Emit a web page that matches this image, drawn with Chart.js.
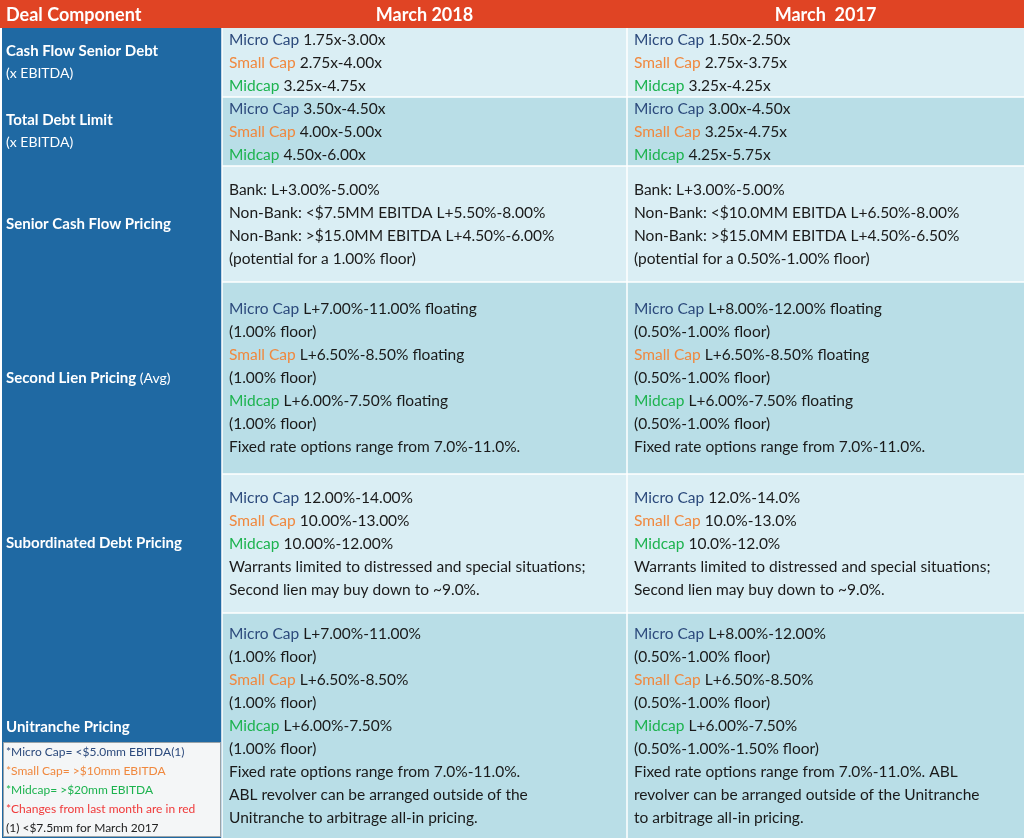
<!DOCTYPE html>
<html><head><meta charset="utf-8">
<script src="https://cdn.jsdelivr.net/npm/chart.js@4"></script>
<style>html,body{margin:0;padding:0;background:#fff}canvas{display:block}</style>
</head><body>
<canvas id="c" width="1024" height="838"></canvas>
<script>
// Table layout in chart units (x: 0..1024, y: 0..838)
const colEdges = [0, 222, 627, 1024];
const headers = ["Deal Component", "March 2018", "March  2017"];
const rowEdges = [0, 28, 97, 166, 282, 474, 613, 838];
const rowLabels = [
  [["Cash Flow Senior Debt","b"]],
  [["Total Debt Limit","b"]],
  [["Senior Cash Flow Pricing","b"]],
  [["Second Lien Pricing","b"],[" (Avg)","r"]],
  [["Subordinated Debt Pricing","b"]],
  [["Unitranche Pricing","b"]]
];
const rowSubLabels = ["(x EBITDA)", "(x EBITDA)", "", "", "", ""];
const march2018 = [
  [[["Micro Cap ","m"],["1.75x-3.00x"]],[["Small Cap ","s"],["2.75x-4.00x"]],[["Midcap ","g"],["3.25x-4.75x"]]],
  [[["Micro Cap ","m"],["3.50x-4.50x"]],[["Small Cap ","s"],["4.00x-5.00x"]],[["Midcap ","g"],["4.50x-6.00x"]]],
  [[["Bank: L+3.00%-5.00%"]],[["Non-Bank: <$7.5MM EBITDA L+5.50%-8.00%"]],[["Non-Bank: >$15.0MM EBITDA L+4.50%-6.00%"]],[["(potential for a 1.00% floor)"]]],
  [[["Micro Cap ","m"],["L+7.00%-11.00% floating"]],[["(1.00% floor)"]],[["Small Cap ","s"],["L+6.50%-8.50% floating"]],[["(1.00% floor)"]],[["Midcap ","g"],["L+6.00%-7.50% floating"]],[["(1.00% floor)"]],[["Fixed rate options range from 7.0%-11.0%."]]],
  [[["Micro Cap ","m"],["12.00%-14.00%"]],[["Small Cap ","s"],["10.00%-13.00%"]],[["Midcap ","g"],["10.00%-12.00%"]],[["Warrants limited to distressed and special situations;"]],[["Second lien may buy down to ~9.0%."]]],
  [[["Micro Cap ","m"],["L+7.00%-11.00%"]],[["(1.00% floor)"]],[["Small Cap ","s"],["L+6.50%-8.50%"]],[["(1.00% floor)"]],[["Midcap ","g"],["L+6.00%-7.50%"]],[["(1.00% floor)"]],[["Fixed rate options range from 7.0%-11.0%."]],[["ABL revolver can be arranged outside of the"]],[["Unitranche to arbitrage all-in pricing."]]]
];
const march2017 = [
  [[["Micro Cap ","m"],["1.50x-2.50x"]],[["Small Cap ","s"],["2.75x-3.75x"]],[["Midcap ","g"],["3.25x-4.25x"]]],
  [[["Micro Cap ","m"],["3.00x-4.50x"]],[["Small Cap ","s"],["3.25x-4.75x"]],[["Midcap ","g"],["4.25x-5.75x"]]],
  [[["Bank: L+3.00%-5.00%"]],[["Non-Bank: <$10.0MM EBITDA L+6.50%-8.00%"]],[["Non-Bank: >$15.0MM EBITDA L+4.50%-6.50%"]],[["(potential for a 0.50%-1.00% floor)"]]],
  [[["Micro Cap ","m"],["L+8.00%-12.00% floating"]],[["(0.50%-1.00% floor)"]],[["Small Cap ","s"],["L+6.50%-8.50% floating"]],[["(0.50%-1.00% floor)"]],[["Midcap ","g"],["L+6.00%-7.50% floating"]],[["(0.50%-1.00% floor)"]],[["Fixed rate options range from 7.0%-11.0%."]]],
  [[["Micro Cap ","m"],["12.0%-14.0%"]],[["Small Cap ","s"],["10.0%-13.0%"]],[["Midcap ","g"],["10.0%-12.0%"]],[["Warrants limited to distressed and special situations;"]],[["Second lien may buy down to ~9.0%."]]],
  [[["Micro Cap ","m"],["L+8.00%-12.00%"]],[["(0.50%-1.00% floor)"]],[["Small Cap ","s"],["L+6.50%-8.50%"]],[["(0.50%-1.00% floor)"]],[["Midcap ","g"],["L+6.00%-7.50%"]],[["(0.50%-1.00%-1.50% floor)"]],[["Fixed rate options range from 7.0%-11.0%. ABL"]],[["revolver can be arranged outside of the Unitranche"]],[["to arbitrage all-in pricing."]]]
];
const footnotes = [
  ["*Micro Cap= <$5.0mm EBITDA(1)","m"],
  ["*Small Cap= >$10mm EBITDA","s"],
  ["*Midcap= >$20mm EBITDA","g"],
  ["*Changes from last month are in red","red"],
  ["(1) <$7.5mm for March 2017","k"]
];

const COLORS = {m:"#2c4a7c", s:"#f0883e", g:"#1db34f", red:"#f03a3a", k:"#222", def:"#1a1a1a"};
const FONT = "Lato, 'Noto Sans', sans-serif";
const LINE = 23;

const tablePlugin = {
  id: "table",
  afterDraw(chart) {
    const ctx = chart.ctx, xs = chart.scales.x, ys = chart.scales.y;
    const X = v => xs.getPixelForValue(v), Y = v => ys.getPixelForValue(v);
    ctx.save();
    // header
    ctx.fillStyle = "#e04424";
    ctx.fillRect(X(0), Y(0), X(1024) - X(0), Y(rowEdges[1]) - Y(0));
    ctx.fillStyle = "#fff";
    ctx.font = "bold 18px " + FONT;
    ctx.textBaseline = "middle";
    const hy = (Y(rowEdges[0]) + Y(rowEdges[1])) / 2 + 1;
    ctx.textAlign = "left"; ctx.fillText(headers[0], X(6), hy);
    ctx.textAlign = "center";
    ctx.fillText(headers[1], (X(colEdges[1]) + X(colEdges[2])) / 2, hy);
    ctx.fillText(headers[2], (X(colEdges[2]) + X(colEdges[3])) / 2, hy);
    // rows
    for (let r = 0; r < rowLabels.length; r++) {
      const y0 = Y(rowEdges[r + 1]), y1 = Y(rowEdges[r + 2]);
      const bg = r % 2 === 0 ? "#daeef4" : "#b9dee7";
      ctx.fillStyle = "#1f69a3";
      ctx.fillRect(X(colEdges[0]) + 2, y0, X(colEdges[1]) - X(colEdges[0]) - 2, y1 - y0);
      ctx.fillStyle = bg;
      ctx.fillRect(X(colEdges[1]), y0, X(colEdges[3]) - X(colEdges[1]), y1 - y0);
      const cy = (y0 + y1) / 2;
      // left label
      ctx.textAlign = "left"; ctx.textBaseline = "middle";
      const sub = rowSubLabels[r];
      let ly = sub ? cy - 11 : cy;
      if (r === 5) ly = Y(727);
      let lx = X(6);
      rowLabels[r].forEach(([t, w]) => {
        ctx.font = (w === "b" ? "bold 15px " : "14px ") + FONT;
        ctx.fillStyle = "#fff";
        ctx.fillText(t, lx, ly);
        lx += ctx.measureText(t).width;
      });
      if (sub) { ctx.font = "14px " + FONT; ctx.fillText(sub, X(6), cy + 11); }
      // data cells
      [march2018, march2017].forEach((col, ci) => {
        const lines = col[r];
        const first = cy - (lines.length - 1) * LINE / 2;
        lines.forEach((segs, li) => {
          let x = X(colEdges[ci + 1] + 7);
          const y = first + li * LINE;
          segs.forEach(([t, c]) => {
            ctx.font = "15.5px " + FONT;
            ctx.fillStyle = COLORS[c || "def"];
            ctx.fillText(t, x, y);
            x += ctx.measureText(t).width;
          });
        });
      });
    }
    // white grid lines
    ctx.strokeStyle = "#fff"; ctx.lineWidth = 1.5;
    for (let r = 2; r < rowEdges.length - 1; r++) {
      ctx.beginPath(); ctx.moveTo(X(colEdges[1]), Y(rowEdges[r])); ctx.lineTo(X(1024), Y(rowEdges[r])); ctx.stroke();
    }
    ctx.beginPath(); ctx.moveTo(X(colEdges[1]), Y(rowEdges[1])); ctx.lineTo(X(colEdges[1]), Y(838)); ctx.stroke();
    ctx.beginPath(); ctx.moveTo(X(colEdges[2]), Y(rowEdges[1])); ctx.lineTo(X(colEdges[2]), Y(838)); ctx.stroke();
    // footnote box
    ctx.fillStyle = "#f4f6f7";
    ctx.fillRect(X(3), Y(742), X(221) - X(3), Y(837) - Y(742));
    ctx.strokeStyle = "#9aa3a8"; ctx.lineWidth = 1;
    ctx.strokeRect(X(3) + 0.5, Y(742) + 0.5, X(221) - X(3) - 1, Y(837) - Y(742) - 1);
    ctx.font = "12px " + FONT; ctx.textAlign = "left";
    footnotes.forEach(([t, c], i) => {
      ctx.fillStyle = COLORS[c];
      ctx.fillText(t, X(6), Y(752 + i * 19));
    });
    ctx.restore();
  }
};

new Chart(document.getElementById("c"), {
  type: "scatter",
  data: { datasets: [{ data: [], pointRadius: 0 }] },
  options: {
    responsive: false, animation: false, devicePixelRatio: 1,
    layout: { padding: 0 },
    plugins: { legend: { display: false }, tooltip: { enabled: false } },
    scales: {
      x: { type: "linear", min: 0, max: 1024, display: false },
      y: { type: "linear", min: 0, max: 838, reverse: true, display: false }
    }
  },
  plugins: [tablePlugin]
});
</script>
</body></html>
